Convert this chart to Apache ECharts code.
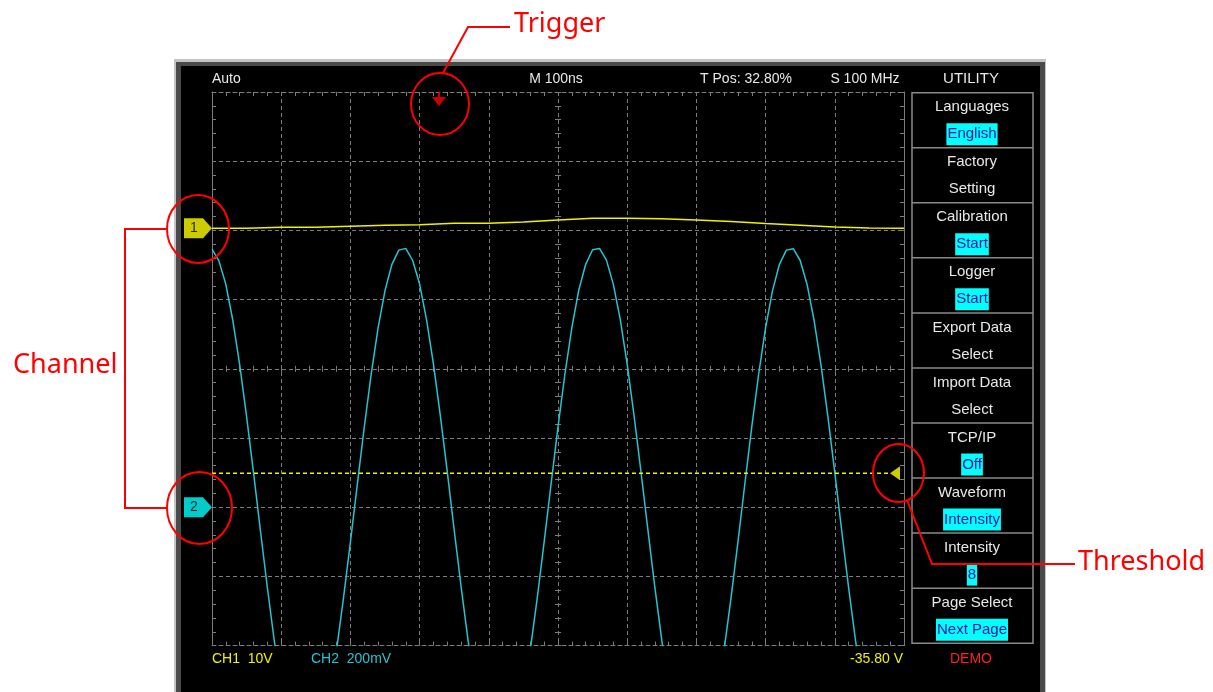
<!DOCTYPE html>
<html>
<head>
<meta charset="utf-8">
<title>Oscilloscope</title>
<script src="https://cdn.jsdelivr.net/npm/echarts@6/dist/echarts.min.js"></script>
<style>
html, body { margin: 0; padding: 0; background: #fff; }
#main { width: 1213px; height: 692px; }
</style>
</head>
<body>
<div id="main"></div>
<script>
// time base: 100 ns / div, 10 div across
var timeCh1 = [0, 50, 100, 150, 200, 250, 300, 350, 400, 450, 500,
  550, 600, 650, 700, 750, 800, 850, 900, 950, 1000];
// CH1 (V), relative to its ground marker
var ch1Volts = [0, 0, 0.14, 0.14, 0.3, 0.43, 0.5, 0.72, 0.72, 0.9, 1.2,
  1.45, 1.45, 1.4, 1.2, 1.0, 0.7, 0.45, 0.2, 0.05, 0];

// CH2 sampled every 10 ns
var timeCh2 = [0, 10, 20, 30, 40, 50, 60, 70, 80, 90, 100, 110, 120, 130, 140, 150, 160, 170, 180, 190,
  200, 210, 220, 230, 240, 250, 260, 270, 280, 290, 300, 310, 320, 330, 340, 350, 360, 370, 380, 390,
  400, 410, 420, 430, 440, 450, 460, 470, 480, 490, 500, 510, 520, 530, 540, 550, 560, 570, 580, 590,
  600, 610, 620, 630, 640, 650, 660, 670, 680, 690, 700, 710, 720, 730, 740, 750, 760, 770, 780, 790,
  800, 810, 820, 830, 840, 850, 860, 870, 880, 890, 900, 910, 920, 930, 940, 950, 960, 970, 980, 990, 1000];
// CH2 (mV), relative to its ground marker
var ch2MilliVolts = [746, 712, 644, 541, 412, 262, 100, -68, -232, -386, -519, -626, -702, -743, -747, -713, -644, -542, -413, -263,
  -101, 66, 231, 384, 518, 626, 702, 743, 748, 713, 645, 542, 414, 264, 102, -66, -230, -384, -518, -625,
  -701, -742, -746, -712, -643, -541, -412, -262, -100, 67, 232, 385, 519, 627, 702, 744, 748, 714, 644, 542,
  413, 263, 101, -67, -232, -385, -519, -626, -702, -743, -747, -713, -644, -542, -413, -263, -101, 67, 232, 385,
  519, 626, 702, 743, 747, 713, 643, 541, 412, 262, 100, -68, -233, -386, -520, -627, -703, -744, -748, -714, -645];

var ch1Scale = 10;      // V/div
var ch2Scale = 200;     // mV/div
var ch1Pos = 2.03;      // div
var ch2Pos = -2;        // div
var thresholdVolts = -35.4;
var triggerPos = 32.8;  // % of screen

var headerTexts = ['Auto', 'M 100ns', 'T Pos: 32.80%', 'S 100 MHz', 'UTILITY'];
var footerTexts = ['CH1  10V', 'CH2  200mV', '-35.80 V', 'DEMO'];
var menuTitles = ['Languages', 'Factory', 'Calibration', 'Logger', 'Export Data',
  'Import Data', 'TCP/IP', 'Waveform', 'Intensity', 'Page Select'];
var menuValues = ['English', 'Setting', 'Start', 'Start', 'Select',
  'Select', 'Off', 'Intensity', '8', 'Next Page'];
var menuHighlight = [true, false, true, true, false, false, true, true, true, true];

var gridColor = '#7c7c7c';
var yellow = '#f2f200';
var cyan = '#22c6d2';
var red = '#ff0000';
var scopeFont = '"Liberation Sans", Arial, sans-serif';
var noteFont = '"Noto Sans", sans-serif';

var chart = echarts.init(document.getElementById('main'));

function scopeAxis(position, range, opts) {
  var a = {
    type: 'value',
    position: position,
    min: range[0],
    max: range[1],
    interval: range[2],
    axisLine: { show: true, onZero: false, lineStyle: { color: gridColor, type: [4, 3], width: 1 } },
    axisTick: { show: true, inside: true, length: 4, lineStyle: { color: gridColor } },
    minorTick: { show: true, splitNumber: 5, length: 4, lineStyle: { color: gridColor } },
    axisLabel: { show: false },
    splitLine: { show: false }
  };
  if (opts) for (var k in opts) a[k] = opts[k];
  return a;
}

// axis through the screen centre, ticks on one side
function centerAxis(position, range, offset, inside) {
  return scopeAxis(position, range, {
    offset: offset,
    axisLine: { show: false, onZero: false },
    axisTick: { show: true, inside: inside, length: 3, lineStyle: { color: gridColor } },
    minorTick: { show: true, splitNumber: 5, length: 3, lineStyle: { color: gridColor } }
  });
}

var xRange = [0, 1000, 100];
var yRange = [-4, 4, 1];

var ch1Data = timeCh1.map(function (t, i) { return [t, ch1Pos + ch1Volts[i] / ch1Scale]; });
var ch2Data = timeCh2.map(function (t, i) { return [t, ch2Pos + ch2MilliVolts[i] / ch2Scale]; });
var thDiv = ch1Pos + thresholdVolts / ch1Scale;

function txt(x, y, s, color, align, font, extra) {
  var st = { text: s, fill: color, font: font, align: align, textAlign: align,
    verticalAlign: 'middle', textVerticalAlign: 'middle' };
  if (extra) for (var k in extra) st[k] = extra[k];
  return { type: 'text', x: x, y: y, z: 10, style: st };
}

function noteStyle() {
  return { fill: 'none', stroke: red, lineWidth: 2 };
}

function buildGraphics() {
  // screen frame
  var g = [
    { type: 'rect', z: -100, shape: { x: 174, y: 59, width: 872, height: 640 }, style: { fill: '#c4c4c4' } },
    { type: 'rect', z: -99, shape: { x: 176, y: 62, width: 869, height: 640 }, style: { fill: '#4a4a4a' } },
    { type: 'rect', z: -98, shape: { x: 181, y: 66, width: 859, height: 640 }, style: { fill: '#000' } }
  ];

  var headFont = '14px ' + scopeFont;
  g.push(txt(212, 79, headerTexts[0], '#e8e8e8', 'left', headFont));
  g.push(txt(556, 79, headerTexts[1], '#e8e8e8', 'center', headFont));
  g.push(txt(746, 79, headerTexts[2], '#e8e8e8', 'center', headFont));
  g.push(txt(865, 79, headerTexts[3], '#e8e8e8', 'center', headFont));
  g.push(txt(971, 79, headerTexts[4], '#e8e8e8', 'center', '15px ' + scopeFont));

  g.push(txt(212, 659, footerTexts[0], yellow, 'left', headFont));
  g.push(txt(311, 659, footerTexts[1], cyan, 'left', headFont));
  g.push(txt(903, 659, footerTexts[2], yellow, 'right', headFont));
  g.push(txt(971, 659, footerTexts[3], '#ff2020', 'center', headFont));

  // menu
  var menuTop = 92.7, itemH = 55.05, menuLeft = 912, menuW = 121;
  var mf = '15px ' + scopeFont;
  g.push({ type: 'rect', z: 5, shape: { x: menuLeft, y: menuTop, width: menuW, height: itemH * 10 },
    style: { fill: 'none', stroke: '#8a8a8a', lineWidth: 1.5 } });
  for (var i = 0; i < menuTitles.length; i++) {
    var itemTop = menuTop + itemH * i;
    if (i > 0) {
      g.push({ type: 'line', z: 5, shape: { x1: menuLeft, y1: itemTop, x2: menuLeft + menuW, y2: itemTop },
        style: { stroke: '#8a8a8a', lineWidth: 1.5 } });
    }
    g.push(txt(972, itemTop + 14.5, menuTitles[i], '#e8e8e8', 'center', mf));
    if (menuHighlight[i]) {
      g.push(txt(972, itemTop + 41.5, menuValues[i], '#1818a8', 'center', mf,
        { backgroundColor: '#00ffff', padding: [4, 1, 3, 1] }));
    } else {
      g.push(txt(972, itemTop + 41.5, menuValues[i], '#e8e8e8', 'center', mf));
    }
  }

  // red annotations
  g.push({ type: 'ellipse', z: 100, shape: { cx: 440, cy: 104, rx: 29, ry: 31 }, style: noteStyle() });
  g.push({ type: 'ellipse', z: 100, shape: { cx: 198, cy: 229, rx: 31, ry: 34 }, style: noteStyle() });
  g.push({ type: 'ellipse', z: 100, shape: { cx: 199.5, cy: 508, rx: 32.5, ry: 36 }, style: noteStyle() });
  g.push({ type: 'ellipse', z: 100, shape: { cx: 898.5, cy: 473, rx: 25.5, ry: 29 }, style: noteStyle() });
  g.push({ type: 'polyline', z: 100, shape: { points: [[443, 73], [468, 27], [510, 27]] }, style: noteStyle() });
  g.push({ type: 'polyline', z: 100, shape: { points: [[167, 229], [125, 229], [125, 508], [167, 508]] }, style: noteStyle() });
  g.push({ type: 'polyline', z: 100, shape: { points: [[907, 500], [932, 564], [1075, 564]] }, style: noteStyle() });
  g.push(txt(514, 24, 'Trigger', red, 'left', '27px ' + noteFont));
  g.push(txt(13, 365, 'Channel', red, 'left', '27px ' + noteFont));
  g.push(txt(1078, 562, 'Threshold', red, 'left', '27px ' + noteFont));
  return g;
}

var pentagon = 'path://M0,0 L19,0 L28,10 L19,20 L0,20 Z';

var option = {
  backgroundColor: '#fff',
  animation: false,
  grid: { left: 212, top: 92, width: 692, height: 553.6 },
  xAxis: [
    scopeAxis('bottom', xRange, { splitLine: { show: true, lineStyle: { color: gridColor, type: [4, 3] } } }),
    scopeAxis('top', xRange),
    centerAxis('bottom', xRange, -276.8, true),
    centerAxis('bottom', xRange, -276.8, false)
  ],
  yAxis: [
    scopeAxis('left', yRange, { splitLine: { show: true, lineStyle: { color: gridColor, type: [4, 3] } } }),
    scopeAxis('right', yRange),
    centerAxis('left', yRange, -346, true),
    centerAxis('left', yRange, -346, false)
  ],
  series: [
    {
      name: 'CH1',
      type: 'line',
      data: ch1Data,
      symbol: 'none',
      lineStyle: { color: yellow, width: 1.5 },
      z: 4
    },
    {
      name: 'CH2',
      type: 'line',
      data: ch2Data,
      symbol: 'none',
      lineStyle: { color: cyan, width: 1.5 },
      z: 3
    },
    {
      name: 'Threshold',
      type: 'line',
      data: [[0, thDiv], [980, thDiv]],
      symbol: 'none',
      lineStyle: { color: yellow, width: 1.5, type: [4, 3] },
      z: 3
    },
    {
      name: 'Markers',
      type: 'scatter',
      clip: false,
      z: 6,
      data: [
        { value: [0, ch1Pos], symbol: pentagon, symbolSize: [28, 20],
          symbolOffset: [-14, 0], itemStyle: { color: '#ffff00' },
          label: { show: true, position: 'inside', formatter: '1', color: '#000', fontSize: 14, offset: [-4, 0] } },
        { value: [0, ch2Pos], symbol: pentagon, symbolSize: [28, 20],
          symbolOffset: [-14, 0], itemStyle: { color: '#00ffff' },
          label: { show: true, position: 'inside', formatter: '2', color: '#000', fontSize: 14, offset: [-4, 0] } },
        { value: [triggerPos * 10, 3.9], symbol: 'path://M6,0 L8,0 L8,5 L14,5 L7,14 L0,5 L6,5 Z',
          symbolSize: [14, 14], itemStyle: { color: red } },
        { value: [987, thDiv], symbol: 'path://M0,7 L10,0 L10,14 Z', symbolSize: [10, 14],
          itemStyle: { color: '#ffff00' } }
      ]
    }
  ],
  graphic: buildGraphics()
};

chart.setOption(option);
</script>
</body>
</html>
